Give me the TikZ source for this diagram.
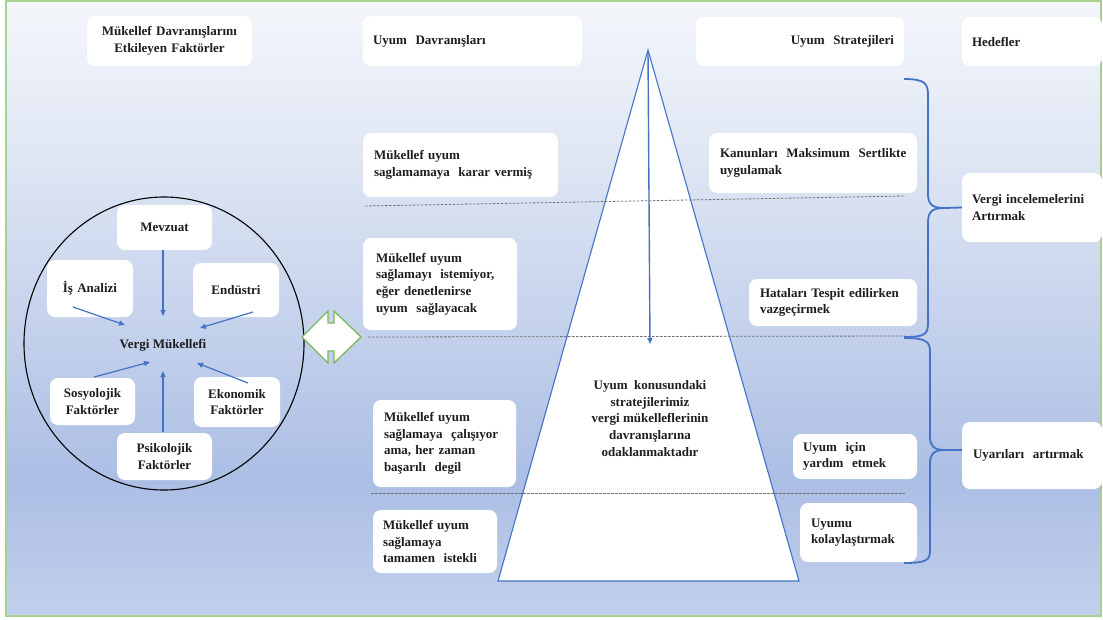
\documentclass[tikz,border=0pt]{standalone}
\usepackage{fontspec}
\setmainfont{Liberation Serif}
\usetikzlibrary{arrows.meta,calc}
\definecolor{bgA}{HTML}{C3D0EC}
\definecolor{bgB}{HTML}{ABBEE4}
\definecolor{bgC}{HTML}{C4D1EC}
\definecolor{bgD}{HTML}{E0E7F4}
\definecolor{bgE}{HTML}{F4F6FB}
\definecolor{blu}{HTML}{4472C4}
\definecolor{frm}{HTML}{A9D18E}
\definecolor{dgreen}{HTML}{7DB95A}
\definecolor{txt}{HTML}{1E1E1E}
\definecolor{dshc}{HTML}{707070}
\pgfdeclareverticalshading{bgsh}{100bp}{color(0bp)=(bgA); color(25bp)=(bgA); color(36bp)=(bgB); color(48bp)=(bgC); color(63bp)=(bgD); color(75bp)=(bgE); color(100bp)=(bgE)}
\newcommand\myfs{\fontsize{13}{16.7}\selectfont\bfseries}
\begin{document}
\begin{tikzpicture}[x=1pt,y=-1pt,
  box/.style={rectangle, rounded corners=8pt, fill=white, inner ysep=0pt, font=\myfs, text=txt},
  lbox/.style={box, align=left},
  rbox/.style={box, align=right},
  cbox/.style={box, align=center},
  arr/.style={-{Triangle[length=6pt,width=5pt]}, draw=blu, line width=1.2pt},
  dsh/.style={draw=dshc, line width=0.8pt, dash pattern=on 2.5pt off 1.5pt},
  brc/.style={draw=blu, line width=1.8pt},
  tri/.style={draw=blu, fill=white, line width=1.1pt, line join=miter}]
\useasboundingbox (0,0) rectangle (1103,619);
\fill[white] (0,0) rectangle (1103,619);
% background frame
\shade[shading=bgsh] (6,1) rectangle (1101,616);
\draw[frm, line width=1.4pt] (6,1) rectangle (1101,616);

% triangle
\coordinate (apex) at (648,50);
\coordinate (bl) at (498,581);
\coordinate (br) at (799,581);
\draw[tri] (apex) -- (br) -- (bl) -- cycle;

% dashed separators
\coordinate (d1a) at (365,206); \coordinate (d1b) at (905,196);
\coordinate (d2a) at (368,337); \coordinate (d2b) at (905,336);
\coordinate (d3a) at (371,493); \coordinate (d3b) at (905,493);
\draw[dsh] (d1a) -- (d1b);
\draw[dsh] (d2a) -- (d2b);
\draw[dsh] (d3a) -- (d3b);

% arrow from apex
\coordinate (atop) at (648,52);
\coordinate (atip) at (650,344);
\draw[arr, line width=1.4pt] (atop) -- (atip);

% centre text
\node[font=\myfs, align=center, text=txt] (ctxt) at (650,418.5)
  {Uyum\ \ konusundaki\\stratejilerimiz\\vergi mükelleflerinin\\davranışlarına\\odaklanmaktadır};

% header boxes
\node[cbox, minimum height=50, text width=155pt, inner xsep=5pt] (h1) at (169.5,41)
  {Mükellef Davranışlarını\\Etkileyen Faktörler};
\node[lbox, minimum height=50, text width=199pt, inner xsep=10pt] (h2) at (472.5,41)
  {Uyum\ \ Davranışları};
\node[rbox, minimum height=49, text width=188pt, inner xsep=10pt] (h3) at (800,41.5)
  {Uyum\ \ Stratejileri};
\node[lbox, minimum height=49, text width=120pt, inner xsep=10pt] (h4) at (1032,41.5)
  {Hedefler};

% behaviour boxes
\node[lbox, minimum height=64, text width=173pt, inner xsep=11pt] (l1) at (460.5,165)
  {Mükellef uyum\\saglamamaya\ \ karar vermiş};
\node[lbox, minimum height=92, text width=128pt, inner xsep=13pt] (l2) at (440,284)
  {Mükellef uyum\\sağlamayı\ \ istemiyor,\\eğer denetlenirse\\uyum\ \ sağlayacak};
\node[lbox, minimum height=87, text width=121pt, inner xsep=11pt] (l3) at (444.5,443.5)
  {Mükellef uyum\\sağlamaya\ \ çalışıyor\\ama, her zaman\\başarılı\ \ degil};
\node[lbox, minimum height=63, text width=104pt, inner xsep=10pt] (l4) at (435,541.5)
  {Mükellef uyum\\sağlamaya\\tamamen\ \ istekli};

% strategy boxes
\node[lbox, minimum height=60, text width=186pt, inner xsep=11pt] (r1) at (813,163)
  {\mbox{Kanunları\ \ Maksimum\ \ Sertlikte}\\uygulamak};
\node[lbox, minimum height=47, text width=146pt, inner xsep=11pt] (r2) at (833,302.5)
  {Hataları Tespit edilirken\\vazgeçirmek};
\node[lbox, minimum height=45, text width=104pt, inner xsep=10pt] (r3) at (855,456.5)
  {Uyum\ \ için\\yardım\ \ etmek};
\node[lbox, minimum height=59, text width=95pt, inner xsep=11pt] (r4) at (858.5,532.5)
  {Uyumu\\kolaylaştırmak};

% goal boxes
\node[lbox, minimum height=69, text width=120pt, inner xsep=10pt] (g1) at (1032,207.5)
  {Vergi incelemelerini\\Artırmak};
\node[lbox, minimum height=67, text width=118pt, inner xsep=11pt] (g2) at (1032,455.5)
  {Uyarıları\ \ artırmak};

% braces
\coordinate (ub1) at (904,79);
\coordinate (ub2) at (904,337);
\coordinate (lb1) at (904,338);
\coordinate (lb2) at (904,563);
\draw[brc] (ub1) .. controls (926,79) and (928,84) .. (928,96) -- (928,194)
  .. controls (928,204) and (932,208) .. (944,208) -- (g1.west);
\draw[brc] (944,208) .. controls (932,208) and (928,212) .. (928,222) -- (928,322)
  .. controls (928,334) and (926,337) .. (ub2);
\draw[brc] (lb1) .. controls (927,338) and (930,342) .. (930,352) -- (930,437)
  .. controls (930,446) and (934,450) .. (945,450) -- (g2.west |- 0,450);
\draw[brc] (945,450) .. controls (934,450) and (930,454) .. (930,463) -- (930,550)
  .. controls (930,560) and (927,563) .. (lb2);

% factor circle
\draw[black, line width=1.1pt] (164,343.5) ellipse [x radius=140pt, y radius=146.5pt];
\node[cbox, minimum height=45, text width=87pt, inner xsep=4pt] (mev) at (164.5,227.5) {Mevzuat};
\node[cbox, minimum height=57, text width=78pt, inner xsep=4pt] (isa) at (90,288.5) {İş Analizi};
\node[cbox, minimum height=54, text width=78pt, inner xsep=4pt] (end) at (236,290) {Endüstri};
\node[cbox, minimum height=47, text width=77pt, inner xsep=4pt] (sos) at (92.5,401.5) {Sosyolojik\\Faktörler};
\node[cbox, minimum height=50, text width=78pt, inner xsep=4pt] (eko) at (237,402) {Ekonomik\\Faktörler};
\node[cbox, minimum height=47, text width=87pt, inner xsep=4pt] (psi) at (164.5,456.5) {Psikolojik\\Faktörler};
\node[font=\myfs, text=txt] (vm) at (163,345) {Vergi Mükellefi};

\coordinate (s1) at (163,250); \coordinate (e1) at (163,316);
\coordinate (s2) at (73,307);  \coordinate (e2) at (125,325);
\coordinate (s3) at (253,312); \coordinate (e3) at (200,328);
\coordinate (s4) at (94,377);  \coordinate (e4) at (150,362);
\coordinate (s5) at (163,432); \coordinate (e5) at (163,371);
\coordinate (s6) at (248,383); \coordinate (e6) at (197,363);
\draw[arr] (s1) -- (e1);
\draw[arr] (s2) -- (e2);
\draw[arr] (s3) -- (e3);
\draw[arr] (s4) -- (e4);
\draw[arr] (s5) -- (e5);
\draw[arr] (s6) -- (e6);

% connector diamond
\draw[draw=dgreen, fill=white, line width=1.3pt, line join=miter]
  (302,337) -- (328,311) -- (328,323) -- (334,323) -- (334,311) -- (361,337)
  -- (334,363) -- (334,351) -- (328,351) -- (328,363) -- cycle;
\end{tikzpicture}
\end{document}
